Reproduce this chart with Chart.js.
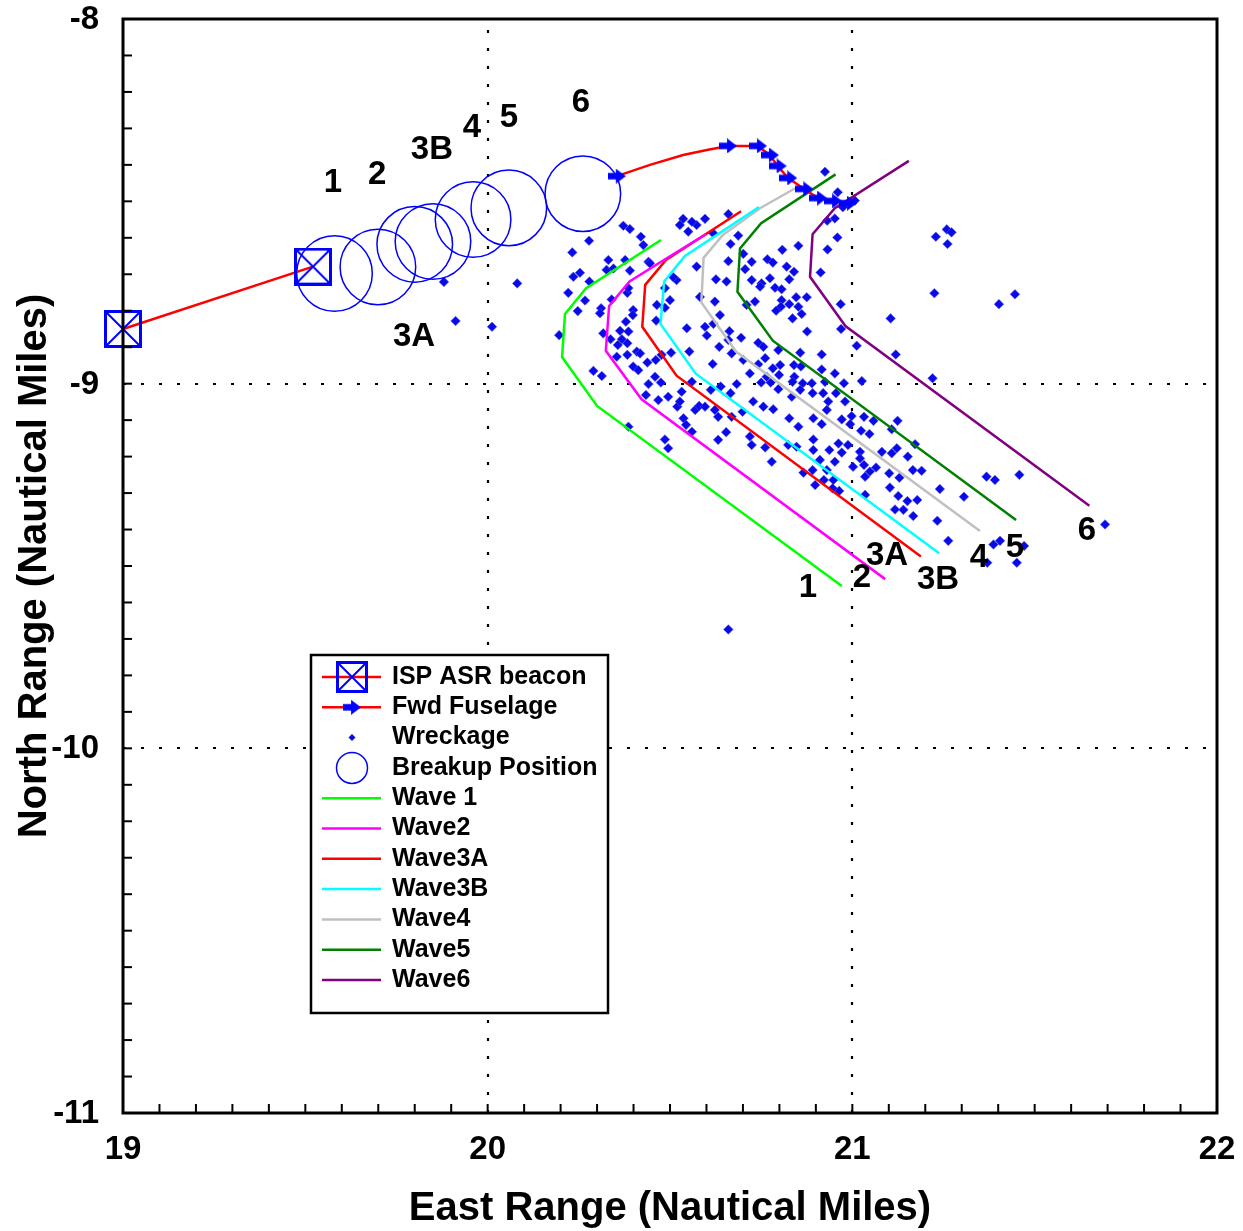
<!DOCTYPE html>
<html>
<head>
<meta charset="utf-8">
<title>Breakup and wreckage</title>
<script src="https://cdn.jsdelivr.net/npm/chart.js@4.4.0/dist/chart.umd.min.js"></script>
<style>
    html, body { margin: 0; padding: 0; background: #fff; }
    #wrap { width: 1243px; height: 1231px; }
</style>
</head>
<body>
<div id="wrap"><canvas id="chart" width="1243" height="1231"></canvas></div>
<script>
// ISP ASR beacon track
const beaconX = [19.000, 19.521];
const beaconY = [-8.850, -8.679];

// forward fuselage track (1 = arrow marker drawn)
const fuselageX = [20.354, 20.445, 20.536, 20.601, 20.659, 20.741, 20.774, 20.795, 20.824, 20.868, 20.906, 20.947, 20.988];
const fuselageY = [-8.431, -8.400, -8.373, -8.359, -8.348, -8.348, -8.373, -8.403, -8.436, -8.466, -8.491, -8.499, -8.505];
const fuselageMarked = [1, 0, 0, 0, 1, 1, 1, 1, 1, 1, 1, 1, 1];

// breakup positions
const breakupNames = ['1', '2', '3A', '3B', '4', '5', '6'];
const breakupX = [19.580, 19.699, 19.800, 19.850, 19.960, 20.058, 20.261];
const breakupY = [-8.698, -8.680, -8.618, -8.610, -8.550, -8.518, -8.479];
const breakupLabelX = [19.576, 19.697, 19.798, 19.847, 19.957, 20.058, 20.256];
const breakupLabelY = [-8.450, -8.428, -8.872, -8.359, -8.299, -8.271, -8.230];

// wave fronts
const wave1X = [20.475, 20.270, 20.212, 20.204, 20.300, 20.971];
const wave1Y = [-8.606, -8.738, -8.809, -8.927, -9.061, -9.555];
const wave2X = [20.599, 20.491, 20.389, 20.333, 20.324, 20.422, 21.090];
const wave2Y = [-8.590, -8.656, -8.720, -8.787, -8.910, -9.043, -9.536];
const wave3AX = [20.695, 20.489, 20.432, 20.424, 20.518, 21.188];
const wave3AY = [-8.527, -8.661, -8.729, -8.844, -8.978, -9.474];
const wave3BX = [20.744, 20.541, 20.484, 20.474, 20.570, 21.238];
const wave3BY = [-8.516, -8.650, -8.720, -8.836, -8.972, -9.465];
const wave4X = [20.847, 20.747, 20.645, 20.592, 20.586, 20.681, 21.350];
const wave4Y = [-8.462, -8.519, -8.592, -8.655, -8.777, -8.912, -9.404];
const wave5X = [20.954, 20.750, 20.692, 20.685, 20.782, 21.449];
const wave5Y = [-8.426, -8.560, -8.629, -8.748, -8.882, -9.374];
const wave6X = [21.155, 20.952, 20.891, 20.884, 20.981, 21.650];
const wave6Y = [-8.389, -8.519, -8.590, -8.707, -8.842, -9.335];
const waveNames = ['1', '2', '3A', '3B', '4', '5', '6'];
const waveLabelX = [20.878, 21.026, 21.095, 21.235, 21.347, 21.446, 21.643];
const waveLabelY = [-9.560, -9.533, -9.473, -9.538, -9.478, -9.451, -9.404];

// wreckage positions
const wreckX = [
    19.880, 20.081, 19.912, 20.012,
    20.372, 20.390, 20.278, 20.232, 20.420, 20.427, 20.331, 20.326, 20.345, 20.390,
    20.441, 20.445, 20.253, 20.235, 20.279, 20.221, 20.383, 20.386, 20.267, 20.340,
    20.247, 20.311, 20.308, 20.399, 20.196, 20.317, 20.337, 20.363, 20.368, 20.383,
    20.357, 20.383, 20.409, 20.418, 20.354, 20.290, 20.313, 20.399, 20.413, 20.386,
    20.379, 20.398, 20.464, 20.462, 20.518, 20.509, 20.486, 20.486, 20.438, 20.461,
    20.477, 20.503, 20.441, 20.475, 20.459, 20.434, 20.495, 20.546, 20.582, 20.573,
    20.536, 20.527, 20.550, 20.573, 20.560, 20.500, 20.520, 20.532, 20.560, 20.569,
    20.537, 20.560, 20.544, 20.486, 20.495, 20.386, 20.468, 20.580, 20.527, 20.553,
    20.377,
    20.596, 20.619, 20.660, 20.687, 20.666, 20.808, 20.852, 20.932, 20.959, 20.952,
    20.931, 20.701, 20.724, 20.767, 20.782, 20.660, 20.706, 20.820, 20.840, 20.913,
    20.626, 20.655, 20.724, 20.751, 20.774, 20.747, 20.788, 20.806, 20.827, 20.623,
    20.733, 20.806, 20.827, 20.846, 20.875, 20.852, 20.804, 20.791, 20.968, 20.710,
    20.637, 20.861, 20.836, 20.596, 20.619, 20.601, 20.876, 20.663, 20.695, 20.660,
    20.742, 20.756, 20.635, 20.669, 20.701, 20.761, 20.797, 20.857, 20.916, 20.617,
    20.719, 20.742, 20.802, 20.840, 20.859, 20.782, 20.765, 20.799, 20.841, 20.916,
    20.952, 20.639, 20.750, 20.776, 20.836, 20.864, 20.889, 20.925, 20.977, 20.683,
    20.797, 20.857, 20.891, 20.920, 20.955, 20.612, 20.666, 20.728, 20.834, 20.934,
    20.980, 20.596, 20.623, 20.756, 20.783, 20.930, 20.827, 20.893, 20.916, 20.971,
    20.632, 20.669, 20.699, 20.852,
    20.925, 20.960, 21.007, 20.974, 21.229, 21.259, 21.272, 21.261, 21.225, 21.402,
    21.446, 20.969, 21.012, 21.105, 21.119, 21.026, 21.220, 20.998, 20.994, 21.032,
    21.058, 21.124, 21.108, 21.024, 21.047, 21.172, 21.122, 21.081, 21.108, 21.021,
    21.021, 21.032, 21.065, 21.048, 21.035, 21.101, 21.152, 21.166, 21.190, 21.129,
    21.103, 21.126, 21.151, 21.178, 21.117, 21.140, 21.167, 21.240, 21.306, 21.233,
    21.263, 21.368, 21.391, 21.458, 21.387, 21.405, 21.471, 21.370, 21.451, 21.693,
    20.971, 21.002, 20.988, 21.035, 20.964,
    20.660, 20.654, 20.632, 20.719, 20.724, 20.761, 20.779, 20.866, 20.847, 20.893,
    20.891, 20.922, 20.898, 20.946, 20.948, 20.930, 20.952, 20.911, 20.937, 20.962,
    20.893, 20.824
];
const wreckY = [
    -8.721, -8.725, -8.828, -8.844,
    -8.567, -8.576, -8.608, -8.640, -8.597, -8.620, -8.661, -8.688, -8.684, -8.690,
    -8.666, -8.670, -8.696, -8.707, -8.720, -8.751, -8.751, -8.738, -8.772, -8.769,
    -8.801, -8.793, -8.807, -8.798, -8.867, -8.862, -8.878, -8.855, -8.878, -8.889,
    -8.894, -8.921, -8.912, -8.917, -8.926, -8.965, -8.979, -8.953, -8.963, -8.857,
    -8.830, -8.812, -8.784, -8.827, -8.716, -8.708, -8.792, -8.738, -8.942, -8.935,
    -8.921, -8.915, -9.001, -8.997, -8.981, -9.031, -9.036, -8.848, -8.762, -8.679,
    -8.548, -8.565, -8.583, -8.565, -8.556, -8.771, -9.063, -9.022, -8.995, -9.072,
    -9.095, -9.132, -9.113, -9.153, -9.177, -9.118, -9.045, -9.061, -9.049, -8.912,
    -8.661,
    -8.548, -8.588, -8.535, -8.594, -8.617, -8.633, -8.622, -8.632, -8.599, -8.547,
    -8.553, -8.644, -8.666, -8.659, -8.668, -8.664, -8.686, -8.679, -8.693, -8.695,
    -8.714, -8.720, -8.716, -8.725, -8.711, -8.734, -8.737, -8.741, -8.714, -8.775,
    -8.775, -8.771, -8.782, -8.763, -8.763, -8.789, -8.789, -8.800, -8.782, -8.784,
    -8.812, -8.809, -8.821, -8.844, -8.836, -8.868, -8.857, -8.856, -8.874, -8.880,
    -8.888, -8.899, -8.899, -8.917, -8.935, -8.930, -8.908, -8.915, -8.920, -8.946,
    -8.972, -8.947, -8.949, -8.949, -8.953, -8.958, -8.981, -8.976, -8.981, -8.961,
    -8.972, -9.008, -8.997, -8.997, -8.995, -8.999, -8.999, -8.995, -8.999, -9.001,
    -9.015, -9.017, -9.026, -9.026, -9.026, -9.017, -9.026, -9.049, -9.036, -9.049,
    -9.049, -9.063, -9.072, -9.063, -9.070, -9.072, -9.095, -9.095, -9.111, -9.098,
    -9.091, -9.091, -9.077, -9.118,
    -8.419, -8.475, -8.498, -8.516, -8.597, -8.577, -8.585, -8.617, -8.752, -8.782,
    -8.755, -8.850, -8.896, -8.821, -8.920, -8.993, -8.985, -9.089, -9.111, -9.091,
    -9.102, -9.102, -9.125, -9.129, -9.138, -9.166, -9.177, -9.187, -9.191, -9.187,
    -9.205, -9.223, -9.230, -9.241, -9.255, -9.246, -9.200, -9.237, -9.239, -9.258,
    -9.285, -9.308, -9.322, -9.319, -9.345, -9.346, -9.363, -9.289, -9.310, -9.376,
    -9.431, -9.255, -9.264, -9.250, -9.441, -9.431, -9.445, -9.491, -9.491, -9.386,
    -9.189, -9.228, -9.168, -9.305, -9.294,
    -9.674, -9.133, -9.154, -9.145, -9.168, -9.175, -9.214, -9.244, -9.173, -9.182,
    -9.237, -9.264, -9.278, -9.287, -9.264, -9.237, -9.214, -9.209, -9.182, -9.164,
    -9.153, -9.168
];

// axes
const xTicks = [19, 20, 21, 22];
const yTicks = [-8, -9, -10, -11];
const xGrid = [20, 21];
const yGrid = [-9, -10];

const legendLabels = ['ISP ASR beacon', 'Fwd Fuselage', 'Wreckage', 'Breakup Position',
    'Wave 1', 'Wave2', 'Wave3A', 'Wave3B', 'Wave4', 'Wave5', 'Wave6'];

const FONT = "'Liberation Sans', Arial, Helvetica, sans-serif";
const BLUE = '#0000ff';
const RED = '#ff0000';
const waveColors = ['#00ff00', '#ff00ff', '#ff0000', '#00ffff', '#c0c0c0', '#008000', '#800080'];

function makeArrow(w, h) {
    const c = document.createElement('canvas');
    c.width = w; c.height = h;
    const g = c.getContext('2d');
    g.fillStyle = BLUE;
    g.beginPath();
    g.moveTo(0, h * 0.28);
    g.lineTo(w * 0.45, h * 0.28);
    g.lineTo(w * 0.45, 0);
    g.lineTo(w, h / 2);
    g.lineTo(w * 0.45, h);
    g.lineTo(w * 0.45, h * 0.72);
    g.lineTo(0, h * 0.72);
    g.closePath();
    g.fill();
    return c;
}

function makeBeacon(s) {
    const c = document.createElement('canvas');
    c.width = s; c.height = s;
    const g = c.getContext('2d');
    g.strokeStyle = BLUE;
    g.lineWidth = 3;
    g.strokeRect(1.5, 1.5, s - 3, s - 3);
    g.lineWidth = 2;
    g.beginPath();
    g.moveTo(2, 2); g.lineTo(s - 2, s - 2);
    g.moveTo(s - 2, 2); g.lineTo(2, s - 2);
    g.stroke();
    return c;
}

const arrowImg = makeArrow(18, 15);
const beaconImg = makeBeacon(38);
const beaconLegendImg = makeBeacon(32);

function pts(xs, ys) {
    return xs.map((x, i) => ({ x: x, y: ys[i] }));
}

const waves = [
    [wave1X, wave1Y], [wave2X, wave2Y], [wave3AX, wave3AY], [wave3BX, wave3BY],
    [wave4X, wave4Y], [wave5X, wave5Y], [wave6X, wave6Y]
];

const datasets = [
    {
        label: 'Fwd Fuselage', data: pts(fuselageX, fuselageY), showLine: true,
        borderColor: RED, borderWidth: 2.5, pointStyle: arrowImg,
        pointRadius: ctx => fuselageMarked[ctx.dataIndex] ? 7 : 0, order: 0
    },
    {
        label: 'ISP ASR beacon', data: pts(beaconX, beaconY), showLine: true,
        borderColor: RED, borderWidth: 2.5, pointStyle: beaconImg, pointRadius: 19, order: 1
    },
    {
        label: 'Breakup Position', data: pts(breakupX, breakupY), pointStyle: 'circle',
        pointRadius: 37.8, pointBorderColor: BLUE, pointBackgroundColor: 'rgba(0,0,0,0)',
        pointBorderWidth: 1.5, order: 2
    }
];
waves.forEach((w, i) => {
    datasets.push({
        label: legendLabels[4 + i], data: pts(w[0], w[1]), showLine: true,
        borderColor: waveColors[i], borderWidth: 2.5, pointRadius: 0, order: 3
    });
});
datasets.push({
    label: 'Wreckage', data: pts(wreckX, wreckY), pointStyle: 'rectRot', pointRadius: 4.8,
    pointBackgroundColor: '#0a0ae6', pointBorderColor: 'rgba(90,90,255,0.55)',
    pointBorderWidth: 1, order: 4
});
datasets.forEach(d => { d.clip = false; });

function line(ctx, x1, y1, x2, y2) {
    ctx.beginPath();
    ctx.moveTo(x1, y1);
    ctx.lineTo(x2, y2);
    ctx.stroke();
}

function drawLegend(ctx) {
    const left = 311, top = 655, w = 297, h = 358;
    ctx.save();
    ctx.fillStyle = '#fff';
    ctx.fillRect(left, top, w, h);
    ctx.strokeStyle = '#000';
    ctx.lineWidth = 2.5;
    ctx.strokeRect(left, top, w, h);
    ctx.font = 'bold 25px ' + FONT;
    ctx.textBaseline = 'middle';
    ctx.textAlign = 'left';
    legendLabels.forEach((text, i) => {
        const cy = 677 + i * 30.3;
        const mx = 352;
        if (i === 0 || i === 1) {
            ctx.strokeStyle = RED; ctx.lineWidth = 2.5;
            line(ctx, 322, cy, 381, cy);
            const img = i === 0 ? beaconLegendImg : arrowImg;
            ctx.drawImage(img, mx - img.width / 2, cy - img.height / 2);
        } else if (i === 2) {
            ctx.fillStyle = '#0a0ae6';
            ctx.beginPath();
            ctx.moveTo(mx, cy - 3.5); ctx.lineTo(mx + 3.5, cy); ctx.lineTo(mx, cy + 3.5); ctx.lineTo(mx - 3.5, cy);
            ctx.closePath(); ctx.fill();
        } else if (i === 3) {
            ctx.strokeStyle = BLUE; ctx.lineWidth = 1.5;
            ctx.beginPath(); ctx.arc(mx, cy, 15.5, 0, Math.PI * 2); ctx.stroke();
        } else {
            ctx.strokeStyle = waveColors[i - 4]; ctx.lineWidth = 2.5;
            line(ctx, 322, cy, 381, cy);
        }
        ctx.fillStyle = '#000';
        ctx.fillText(text, 392, cy);
    });
    ctx.restore();
}

const overlay = {
    id: 'overlay',
    beforeDatasetsDraw(chart) {
        const { ctx, chartArea: a, scales: { x, y } } = chart;
        ctx.save();
        ctx.strokeStyle = '#000';
        ctx.lineWidth = 2.2;
        ctx.setLineDash([3, 15]);
        xGrid.forEach(v => {
            const p = Math.round(x.getPixelForValue(v));
            line(ctx, p, a.bottom, p, a.top);
        });
        yGrid.forEach(v => {
            const p = Math.round(y.getPixelForValue(v));
            line(ctx, a.left, p, a.right, p);
        });
        ctx.restore();
    },
    afterDatasetsDraw(chart) {
        const { ctx, chartArea: a, scales: { x, y } } = chart;
        ctx.save();
        ctx.strokeStyle = '#000';
        // minor ticks every 0.1 on the bottom and left axes
        ctx.lineWidth = 2;
        for (let i = 191; i < 220; i++) {
            const p = x.getPixelForValue(i / 10);
            line(ctx, p, a.bottom, p, a.bottom - 9);
        }
        for (let i = -109; i < -80; i++) {
            const p = y.getPixelForValue(i / 10);
            line(ctx, a.left, p, a.left + 9, p);
        }
        ctx.lineWidth = 3;
        ctx.strokeRect(a.left, a.top, a.right - a.left, a.bottom - a.top);

        ctx.fillStyle = '#000';
        ctx.font = 'bold 33px ' + FONT;
        ctx.textBaseline = 'middle';
        // tick labels
        ctx.textAlign = 'center';
        xTicks.forEach(v => ctx.fillText(String(v), x.getPixelForValue(v), a.bottom + 37));
        ctx.textAlign = 'right';
        yTicks.forEach(v => ctx.fillText(String(v), a.left - 24, y.getPixelForValue(v) + 1));

        // breakup and wave labels
        ctx.textAlign = 'center';
        breakupNames.forEach((t, i) => {
            ctx.fillText(t, x.getPixelForValue(breakupLabelX[i]), y.getPixelForValue(breakupLabelY[i]));
        });
        waveNames.forEach((t, i) => {
            ctx.fillText(t, x.getPixelForValue(waveLabelX[i]), y.getPixelForValue(waveLabelY[i]));
        });
        ctx.restore();
        drawLegend(ctx);
    }
};

const titleFont = { family: FONT, size: 40, weight: 'bold', lineHeight: 1.2 };

new Chart(document.getElementById('chart'), {
    type: 'scatter',
    data: { datasets: datasets },
    options: {
        responsive: false,
        animation: false,
        devicePixelRatio: 1,
        events: [],
        layout: { autoPadding: false, padding: { left: 0, right: 26, top: 19, bottom: 0 } },
        plugins: { legend: { display: false }, tooltip: { enabled: false } },
        scales: {
            x: {
                type: 'linear', position: 'bottom', min: 19, max: 22,
                afterFit: s => { s.height = 118; },
                grid: { display: false, drawTicks: false },
                border: { display: false },
                ticks: { display: false },
                title: {
                    display: true, text: 'East Range (Nautical Miles)', color: '#000',
                    font: titleFont, padding: { top: 0, bottom: -2 }
                }
            },
            y: {
                type: 'linear', position: 'left', min: -11, max: -8,
                afterFit: s => { s.width = 123; },
                grid: { display: false, drawTicks: false },
                border: { display: false },
                ticks: { display: false },
                title: {
                    display: true, text: 'North Range (Nautical Miles)', color: '#000',
                    font: titleFont, padding: { top: 11, bottom: 0 }
                }
            }
        }
    },
    plugins: [overlay]
});
</script>
</body>
</html>
